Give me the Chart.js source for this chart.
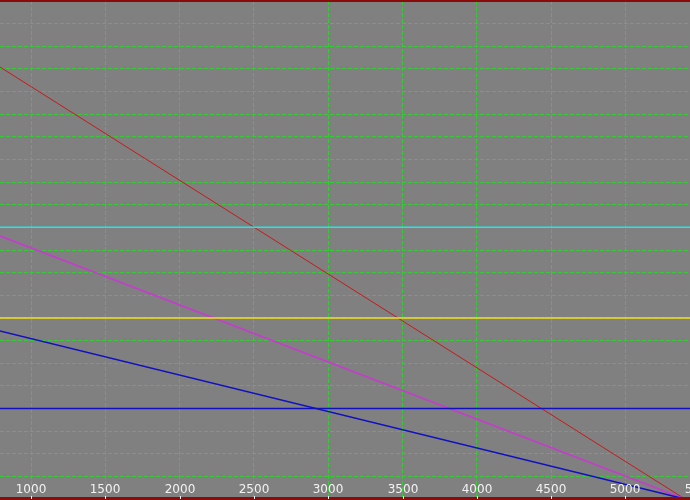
<!DOCTYPE html>
<html>
<head>
<meta charset="utf-8">
<script src="https://cdn.jsdelivr.net/npm/chart.js@4"></script>
<style>
    html, body { margin: 0; padding: 0; overflow: hidden; background: #808080; }
    #wrap { width: 720px; height: 500px; }
</style>
</head>
<body>
<div id="wrap"><canvas id="plot" width="720" height="500"></canvas></div>
<script>
// tick labels
const xTicks = [1000, 1500, 2000, 2500, 3000, 3500, 4000, 4500, 5000, 5500];

// x positions of the line ends
const slopeX = [700, 5400];
const flatX = [700, 5700];

// series values
const redLine = [19.46, 0];
const magentaLine = [11.85, 0];
const blueSlope = [7.57, 0];
const cyanLevel = [12, 12];
const yellowLevel = [8, 8];
const blueLevel = [4, 4];

const X_MIN = 791.4;
const X_MAX = 5636;
const Y_MIN = 0;
const Y_MAX = 22;

const GRID_GREEN = '#33cc33';

function pts(xs, ys) {
    return xs.map((x, i) => ({ x: x, y: ys[i] }));
}

function series(label, xs, ys, color, width) {
    return {
        label: label,
        data: pts(xs, ys),
        borderColor: color,
        borderWidth: width,
        pointRadius: 0,
        fill: false,
        tension: 0
    };
}

// tick labels drawn inside the plot, plus the dark red strips
const insideTicks = {
    id: 'insideTicks',
    afterDraw(chart) {
        const c = chart.ctx;
        const xs = chart.scales.x;
        c.save();
        c.fillStyle = '#8b0a0a';
        c.fillRect(0, 0, chart.width, 2);
        c.fillRect(0, 497, chart.width, 3);

        c.font = '12px "DejaVu Sans"';
        c.fillStyle = '#f2f2f2';
        c.textAlign = 'center';
        c.textBaseline = 'middle';
        xs.ticks.forEach(t => {
            const px = Math.round(xs.getPixelForValue(t.value));
            c.fillText(String(t.value), px, 490);
            c.fillRect(px, 496, 1, 3);
        });
        c.restore();
    }
};

const ctx = document.getElementById('plot').getContext('2d');
const chart = new Chart(ctx, {
    type: 'line',
    data: {
        datasets: [
            series('cyan', flatX, cyanLevel, '#22e6e6', 1.5),
            series('yellow', flatX, yellowLevel, '#f0e020', 1.5),
            series('blue level', flatX, blueLevel, '#1010c0', 1.6),
            series('blue', slopeX, blueSlope, '#1010c0', 1.5),
            series('magenta', slopeX, magentaLine, '#c040c8', 1.8),
            series('red', slopeX, redLine, '#c41a1a', 1)
        ]
    },
    options: {
        responsive: false,
        animation: false,
        layout: { padding: { top: 1, bottom: 1, left: 0, right: 0 } },
        plugins: {
            legend: { display: false },
            tooltip: { enabled: false }
        },
        scales: {
            x: {
                type: 'linear',
                min: X_MIN,
                max: X_MAX,
                afterBuildTicks: scale => {
                    scale.ticks = xTicks.map(v => ({ value: v }));
                },
                grid: { color: GRID_GREEN, lineWidth: 1, drawTicks: false },
                border: { display: false, dash: [4, 2] },
                ticks: { display: false }
            },
            y: {
                type: 'linear',
                min: Y_MIN,
                max: Y_MAX,
                grid: { color: GRID_GREEN, lineWidth: 1, drawTicks: false },
                border: { display: false, dash: [4, 2] },
                ticks: { display: false, stepSize: 1 }
            }
        }
    },
    plugins: [insideTicks]
});
</script>
</body>
</html>
